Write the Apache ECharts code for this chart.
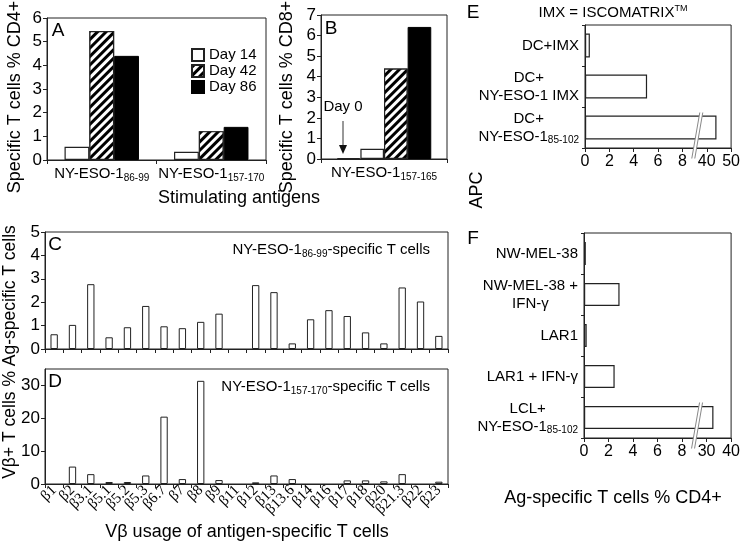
<!DOCTYPE html>
<html><head><meta charset="utf-8">
<script src="https://cdn.jsdelivr.net/npm/echarts@6/dist/echarts.min.js"></script>
<style>html,body{margin:0;padding:0;background:#fff}#c{width:743px;height:546px}</style>
</head><body><div id="c"></div>
<script>
// ---------- DATA ----------
// Panel A
const antigensA = ['NY-ESO-1_86-99', 'NY-ESO-1_157-170'];
const day14A = [0.56, 0.35];
const day42A = [5.45, 1.22];
const day86A = [4.4, 1.4];
// Panel B
const antigensB = ['NY-ESO-1_157-165'];
const day0B = [0.05];
const day14B = [0.5];
const day42B = [4.4];
const day86B = [6.42];
// Panels C and D
const vbetaFamilies = ['β1','β2','β3.1','β5.1','β5.2','β5.3','β6.7','β7','β8','β9','β11','β12','β13','β13.6','β14','β16','β17','β18','β20','β21.3','β22','β23'];
const vbetaC = [0.63,1.03,2.77,0.5,0.93,1.84,0.97,0.89,1.16,1.51,0,2.73,2.43,0.24,1.27,1.66,1.41,0.71,0.24,2.63,2.03,0.56];
const vbetaD = [0,5.3,3.0,0.6,0.6,2.6,20.5,1.5,31.4,1.2,0,0.5,2.6,1.5,0,0,1.1,1.1,0.8,3.0,0,0.7];
// Panel E
const apcE = ['DC+IMX', 'DC+\nNY-ESO-1 IMX', 'DC+\nNY-ESO-1_85-102'];
const valuesE = [0.4, 5.1, 44];
const ticksE = [0, 2, 4, 6, 8, 40, 50];
// Panel F
const apcF = ['NW-MEL-38', 'NW-MEL-38 +\nIFN-γ', 'LAR1', 'LAR1 + IFN-γ', 'LCL+\nNY-ESO-1_85-102'];
const valuesF = [0.15, 2.9, 0.22, 2.5, 32.8];
const ticksF = [0, 2, 4, 6, 8, 30, 40];

// ---------- HELPERS ----------
const FONT = '"Liberation Sans", Arial, Helvetica, sans-serif';
const SERIF = '"Liberation Serif", "Times New Roman", serif';
const AX = '#222';
function rich(size, sub, align) {
  return {
    c: {fontSize: size, lineHeight: size + 3, fontFamily: FONT, color: '#000', align: align},
    s: {fontSize: sub, lineHeight: 9, verticalAlign: 'bottom', fontFamily: FONT, color: '#000', align: align}
  };
}
function fmtSub(v) {
  return String(v).split('\n').map(line => {
    const p = line.split('_');
    return p[1] ? '{c|' + p[0] + '}{s|' + p[1] + '}' : '{c|' + p[0] + '}';
  }).join('\n');
}
// broken axis: linear up to ticks[4], then ticks[5] -> 10, ticks[6] -> 12
function brk(ticks) {
  return v => v <= ticks[4] + 1 ? v : 10 + (v - ticks[5]) / (ticks[6] - ticks[5]) * 2;
}
const noZero = v => (v === 0 ? '-' : v);
function lineAxis(extra) {
  return Object.assign({
    axisLine: {show: true, onZero: false, lineStyle: {color: AX, width: 1}},
    axisTick: {show: true, length: 4, lineStyle: {color: AX}},
    splitLine: {show: false}
  }, extra);
}
const whiteBar = {color: '#fff', borderColor: AX, borderWidth: 1.2};
const blackBar = {color: '#000', borderColor: '#000', borderWidth: 1};
const hatchBar = {
  color: '#fff', borderColor: AX, borderWidth: 1.2,
  decal: {symbol: 'rect', symbolSize: 1, dashArrayX: [1, 0], dashArrayY: [3, 3],
          rotation: -Math.PI / 4, color: '#000', backgroundColor: '#fff'}
};
const gridStyle = {show: true, borderColor: AX, borderWidth: 1, backgroundColor: 'transparent', containLabel: false};

const chart = echarts.init(document.getElementById('c'));

const option = {
  animation: false,
  backgroundColor: '#fff',
  textStyle: {fontFamily: FONT, color: '#000'},
  grid: [
    Object.assign({left: 47, top: 18, width: 219, height: 142}, gridStyle),   // A
    Object.assign({left: 321, top: 15, width: 126, height: 144}, gridStyle),  // B
    Object.assign({left: 45, top: 232, width: 403, height: 117}, gridStyle),  // C
    Object.assign({left: 45, top: 369, width: 403, height: 115}, gridStyle),  // D
    Object.assign({left: 585, top: 25, width: 147, height: 123}, gridStyle),  // E
    Object.assign({left: 584, top: 233, width: 148, height: 205}, gridStyle)  // F
  ],
  legend: {
    data: ['Day 14', 'Day 42', 'Day 86'],
    orient: 'vertical', left: 186, top: 42,
    itemWidth: 12, itemHeight: 12, itemGap: 0, icon: 'rect',
    textStyle: {fontSize: 15, fontFamily: FONT, color: '#000', lineHeight: 16},
    selectedMode: false
  },
  xAxis: [
    lineAxis({gridIndex: 0, type: 'category', data: antigensA,
      axisLabel: {interval: 0, hideOverlap: false, fontSize: 15, margin: 5, formatter: fmtSub, rich: rich(15, 10, 'center')}}),
    lineAxis({gridIndex: 1, type: 'category', data: antigensB,
      axisLabel: {interval: 0, hideOverlap: false, fontSize: 15, margin: 5, formatter: fmtSub, rich: rich(15, 10, 'center')}}),
    lineAxis({gridIndex: 2, type: 'category', data: vbetaFamilies,
      axisTick: {show: true, length: 4, interval: 0, lineStyle: {color: AX}},
      axisLabel: {show: false}}),
    lineAxis({gridIndex: 3, type: 'category', data: vbetaFamilies,
      axisTick: {show: true, length: 4, interval: 0, lineStyle: {color: AX}},
      axisLabel: {interval: 0, hideOverlap: false, rotate: 45, fontSize: 15, fontFamily: SERIF, margin: 4, color: '#000'}}),
    lineAxis({gridIndex: 4, type: 'value', min: 0, max: 12, interval: 2,
      axisLabel: {fontSize: 16, margin: 6, color: '#000', formatter: v => ticksE[v / 2]}}),
    lineAxis({gridIndex: 5, type: 'value', min: 0, max: 12, interval: 2,
      axisLabel: {fontSize: 16, margin: 6, color: '#000', formatter: v => ticksF[v / 2]}})
  ],
  yAxis: [
    lineAxis({gridIndex: 0, type: 'value', min: 0, max: 6, interval: 1,
      axisLabel: {fontSize: 17, margin: 5, color: '#000'}}),
    lineAxis({gridIndex: 1, type: 'value', min: 0, max: 7, interval: 1,
      axisLabel: {fontSize: 17, margin: 5, color: '#000'}}),
    lineAxis({gridIndex: 2, type: 'value', min: 0, max: 5, interval: 1,
      axisLabel: {fontSize: 17, margin: 5, color: '#000'}}),
    lineAxis({gridIndex: 3, type: 'value', min: 0, max: 35, interval: 10,
      axisLabel: {fontSize: 17, margin: 5, color: '#000', showMaxLabel: false,
        formatter: v => (v % 10 === 0 ? String(v) : '')}}),
    lineAxis({gridIndex: 4, type: 'category', data: apcE, inverse: true,
      axisTick: {show: true, length: 3, lineStyle: {color: AX}},
      axisLabel: {interval: 0, hideOverlap: false, fontSize: 15, margin: 6, formatter: fmtSub, rich: rich(15, 10, 'center')}}),
    lineAxis({gridIndex: 5, type: 'category', data: apcF, inverse: true,
      axisTick: {show: true, length: 3, lineStyle: {color: AX}},
      axisLabel: {interval: 0, hideOverlap: false, fontSize: 15, margin: 6, formatter: fmtSub, rich: rich(15, 10, 'center')}})
  ],
  series: [
    {type: 'bar', name: 'Day 14', xAxisIndex: 0, yAxisIndex: 0, data: day14A, itemStyle: whiteBar, barGap: '0%', barCategoryGap: '32%'},
    {type: 'bar', name: 'Day 42', xAxisIndex: 0, yAxisIndex: 0, data: day42A, itemStyle: hatchBar, barGap: '0%', barCategoryGap: '32%'},
    {type: 'bar', name: 'Day 86', xAxisIndex: 0, yAxisIndex: 0, data: day86A, itemStyle: blackBar, barGap: '0%', barCategoryGap: '32%'},

    {type: 'bar', name: 'Day 0', xAxisIndex: 1, yAxisIndex: 1, data: day0B, itemStyle: whiteBar, barGap: '0%', barCategoryGap: '25%'},
    {type: 'bar', name: 'Day 14', xAxisIndex: 1, yAxisIndex: 1, data: day14B, itemStyle: whiteBar, barGap: '0%', barCategoryGap: '25%'},
    {type: 'bar', name: 'Day 42', xAxisIndex: 1, yAxisIndex: 1, data: day42B, itemStyle: hatchBar, barGap: '0%', barCategoryGap: '25%'},
    {type: 'bar', name: 'Day 86', xAxisIndex: 1, yAxisIndex: 1, data: day86B, itemStyle: blackBar, barGap: '0%', barCategoryGap: '25%'},

    {type: 'bar', name: 'C', xAxisIndex: 2, yAxisIndex: 2, data: vbetaC.map(noZero), itemStyle: {color: '#fff', borderColor: AX, borderWidth: 1}, barWidth: '40%'},
    {type: 'bar', name: 'D', xAxisIndex: 3, yAxisIndex: 3, data: vbetaD.map(noZero), itemStyle: {color: '#fff', borderColor: AX, borderWidth: 1}, barWidth: '40%'},

    {type: 'bar', name: 'E', xAxisIndex: 4, yAxisIndex: 4, data: valuesE.map(brk(ticksE)), itemStyle: whiteBar, barCategoryGap: '42%'},
    {type: 'bar', name: 'F', xAxisIndex: 5, yAxisIndex: 5, data: valuesF.map(brk(ticksF)), itemStyle: whiteBar, barCategoryGap: '44%'}
  ]
};
chart.setOption(option);

// ---------- TEXT / ANNOTATIONS ----------
function T(x, y, text, size, extra) {
  const el = {type: 'text', x: x, y: y, z: 100,
    style: {text: text, fontSize: size, fontFamily: FONT, fill: '#000', align: 'center', verticalAlign: 'middle'}};
  if (extra) {
    if (extra.style) Object.assign(el.style, extra.style);
    if (extra.rotation) el.rotation = extra.rotation;
  }
  return el;
}
const R90 = {rotation: Math.PI / 2};
const richStyle = {
  c: {fontSize: 15, fontFamily: FONT, fill: '#000', lineHeight: 18},
  s: {fontSize: 10, fontFamily: FONT, fill: '#000', lineHeight: 9, verticalAlign: 'bottom'},
  sup: {fontSize: 9, fontFamily: FONT, fill: '#000', lineHeight: 9, verticalAlign: 'top'}
};
const g = [
  T(15, 97, 'Specific T cells % CD4+', 18, R90),
  T(287, 97, 'Specific T cells % CD8+', 18, R90),
  T(10, 352, 'Vβ+ T cells % Ag-specific T cells', 17.5, R90),
  T(477, 190, 'APC', 18, R90),
  T(239, 198, 'Stimulating antigens', 18),
  T(247, 532, 'Vβ usage of antigen-specific T cells', 18),
  T(613, 498, 'Ag-specific T cells % CD4+', 18),
  T(58, 31, 'A', 19), T(331, 29, 'B', 19), T(55, 245, 'C', 19), T(55, 382, 'D', 19),
  T(473, 13, 'E', 19), T(473, 239, 'F', 19),
  T(613, 13, '{c|IMX = ISCOMATRIX}{sup|TM}', 15, {style: {rich: richStyle}}),
  T(430, 250, '{c|NY-ESO-1}{s|86-99}{c|-specific T cells}', 15, {style: {align: 'right', rich: richStyle}}),
  T(430, 387, '{c|NY-ESO-1}{s|157-170}{c|-specific T cells}', 15, {style: {align: 'right', rich: richStyle}})
];

// Day 0 annotation in panel B
const pB = chart.convertToPixel({xAxisIndex: 1, yAxisIndex: 1}, [antigensB[0], 0]);
const ax = pB[0] - 41;
g.push(T(ax, 107, 'Day 0', 15));
g.push({type: 'line', z: 100, shape: {x1: ax, y1: 121, x2: ax, y2: pB[1] - 12}, style: {stroke: '#333', lineWidth: 1}});
g.push({type: 'polygon', z: 100, shape: {points: [[ax - 4, pB[1] - 14], [ax + 4, pB[1] - 14], [ax, pB[1] - 5]]}, style: {fill: '#111'}});

// axis break marks for E and F
function breakMark(xi, yi, catIdx) {
  const c = chart.convertToPixel({xAxisIndex: xi, yAxisIndex: yi}, [9.1, catIdx]);
  const x = c[0], y = c[1];
  const y1 = y + 31, y2 = y - 15, dx = 4;
  return [
    {type: 'polygon', z: 90, shape: {points: [[x - dx, y1], [x + 3 - dx, y1], [x + 3 + dx, y2], [x + dx, y2]]}, style: {fill: '#fff'}},
    {type: 'line', z: 91, shape: {x1: x - dx, y1: y1, x2: x + dx, y2: y2}, style: {stroke: '#888', lineWidth: 1}},
    {type: 'line', z: 91, shape: {x1: x + 3 - dx, y1: y1, x2: x + 3 + dx, y2: y2}, style: {stroke: '#888', lineWidth: 1}}
  ];
}
breakMark(4, 4, 2).forEach(e => g.push(e));
breakMark(5, 5, 4).forEach(e => g.push(e));

chart.setOption({graphic: g});
</script>
</body></html>
